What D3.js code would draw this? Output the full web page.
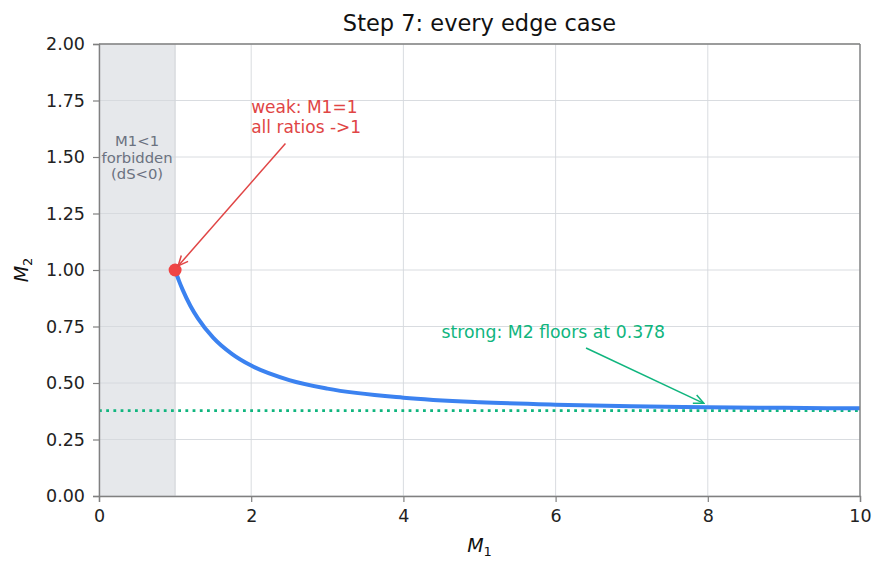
<!DOCTYPE html>
<html>
<head>
<meta charset="utf-8">
<script src="https://cdn.jsdelivr.net/npm/d3@7"></script>
<style>
	body { margin: 0; background: #fff; }
	svg text { font-family: "DejaVu Sans", sans-serif; }
</style>
</head>
<body>
<svg id="chart" width="886" height="572"></svg>
<script>
// values
var m1Values = [1, 1.05, 1.1, 1.2, 1.3, 1.5, 1.75, 2, 2.5, 3, 4, 5, 6, 7, 8, 9, 10];
var m2Values = [1, 0.953, 0.912, 0.842, 0.786, 0.701, 0.628, 0.577, 0.513, 0.475, 0.435, 0.415, 0.404, 0.397, 0.393, 0.390, 0.388];
var xTicks = [0, 2, 4, 6, 8, 10];
var yTicks = [0, 0.25, 0.5, 0.75, 1, 1.25, 1.5, 1.75, 2];
var m2Floor = 0.378;
var forbiddenZone = [0, 1];
var forbiddenLabel = ['M1<1', 'forbidden', '(dS<0)'];
var weakPoint = {m1 : 1, m2 : 1};
var weakLabel = ['weak: M1=1', 'all ratios ->1'];
var weakLabelAt = {m1 : 2, m2 : 1.695};
var weakArrowFrom = {m1 : 2.45, m2 : 1.56};
var strongLabel = 'strong: M2 floors at 0.378';
var strongLabelAt = {m1 : 4.5, m2 : 0.70};
var strongArrowFrom = {m1 : 6.4, m2 : 0.655};
var strongArrowTo = {m1 : 8, m2 : 0.41};

var margin = {left : 99, right : 26, top : 44, bottom : 76};

var svg = d3.select('#chart'),
	width = 886 - margin.left - margin.right,
	height = 572 - margin.top - margin.bottom;

var x = d3.scaleLinear().domain([0, 10]).range([0, width]);
var y = d3.scaleLinear().domain([0, 2]).range([height, 0]);

var defs = svg.append('defs');
function arrowMarker(id, color){
	defs.append('marker')
		.attr('id', id)
		.attr('viewBox', '0 0 12 12')
		.attr('refX', 11).attr('refY', 6)
		.attr('markerWidth', 12).attr('markerHeight', 12)
		.attr('markerUnits', 'userSpaceOnUse')
		.attr('orient', 'auto')
		.append('path')
		.attr('d', 'M1,1.5 L11,6 L1,10.5')
		.attr('fill', 'none')
		.attr('stroke', color)
		.attr('stroke-width', 1.5);
}
arrowMarker('arrRed', '#e04545');
arrowMarker('arrGreen', '#10b57e');

var g = svg.append('g')
	.attr('transform', `translate(${margin.left},${margin.top})`);

// forbidden zone
g.append('rect')
	.attr('x', x(forbiddenZone[0]))
	.attr('y', 0)
	.attr('width', x(forbiddenZone[1]) - x(forbiddenZone[0]))
	.attr('height', height)
	.attr('fill', '#e6e8eb');

// grid
g.append('g').selectAll('line')
	.data(xTicks)
	.enter().append('line')
	.attr('x1', d => x(d)).attr('x2', d => x(d))
	.attr('y1', 0).attr('y2', height)
	.attr('stroke', '#d5d8dc').attr('stroke-width', 0.9);

g.append('g').selectAll('line')
	.data(yTicks)
	.enter().append('line')
	.attr('x1', 0).attr('x2', width)
	.attr('y1', d => y(d)).attr('y2', d => y(d))
	.attr('stroke', '#d5d8dc').attr('stroke-width', 0.9);

g.append('line')
	.attr('x1', x(forbiddenZone[1])).attr('x2', x(forbiddenZone[1]))
	.attr('y1', 0).attr('y2', height)
	.attr('stroke', '#d3d6da').attr('stroke-width', 1.2);

g.append('text')
	.attr('x', x(0.5))
	.attr('y', 146 - margin.top)
	.attr('text-anchor', 'middle')
	.attr('fill', '#6b7280')
	.style('font-size', '14.8px')
	.selectAll('tspan')
	.data(forbiddenLabel)
	.enter().append('tspan')
	.attr('x', x(0.5))
	.attr('dy', (d, i) => i === 0 ? 0 : 16.5)
	.text(d => d);

// floor line
g.append('line')
	.attr('x1', 0).attr('x2', width)
	.attr('y1', y(m2Floor)).attr('y2', y(m2Floor))
	.attr('stroke', '#10b57e')
	.attr('stroke-width', 2.8)
	.attr('stroke-dasharray', '2.8,4.4');

// curve
var points = m1Values.map((m, i) => ({m1 : m, m2 : m2Values[i]}));
var line = d3.line()
	.x(d => x(d.m1))
	.y(d => y(d.m2))
	.curve(d3.curveMonotoneX);

g.append('path')
	.datum(points)
	.attr('d', line)
	.attr('fill', 'none')
	.attr('stroke', '#3b82f0')
	.attr('stroke-width', 4)
	.attr('stroke-linecap', 'butt');

g.append('circle')
	.attr('cx', x(weakPoint.m1))
	.attr('cy', y(weakPoint.m2))
	.attr('r', 6.5)
	.attr('fill', '#ef4444');

// axes
var xAxis = g.append('g')
	.attr('transform', `translate(0,${height})`)
	.call(d3.axisBottom(x).tickValues(xTicks).tickSize(6).tickPadding(5).tickFormat(d3.format('d')));
var yAxis = g.append('g')
	.call(d3.axisLeft(y).tickValues(yTicks).tickSize(6).tickPadding(8).tickFormat(d3.format('.2f')));

g.append('line').attr('class', 'spine').attr('x1', width).attr('x2', width).attr('y1', 0).attr('y2', height);
g.append('line').attr('class', 'spine').attr('x1', 0).attr('x2', width).attr('y1', 0).attr('y2', 0);
g.selectAll('.spine').attr('stroke', '#808080').attr('stroke-width', 1.4);

[xAxis, yAxis].forEach(function(a){
	a.select('.domain').attr('stroke', '#808080').attr('stroke-width', 1.4);
	a.selectAll('.tick line').attr('stroke', '#808080').attr('stroke-width', 1.2);
	a.selectAll('.tick text')
		.attr('fill', '#222')
		.style('font-size', '17.5px')
		.style('font-family', '"DejaVu Sans", sans-serif');
});
xAxis.selectAll('.tick text').attr('dy', '0.85em');

// weak annotation
g.append('line')
	.attr('x1', x(weakArrowFrom.m1)).attr('y1', y(weakArrowFrom.m2))
	.attr('x2', x(weakPoint.m1) + 3).attr('y2', y(weakPoint.m2) - 4)
	.attr('stroke', '#e04545')
	.attr('stroke-width', 1.5)
	.attr('marker-end', 'url(#arrRed)');

g.append('text')
	.attr('x', x(weakLabelAt.m1))
	.attr('y', y(weakLabelAt.m2))
	.attr('fill', '#e04545')
	.style('font-size', '17px')
	.selectAll('tspan')
	.data(weakLabel)
	.enter().append('tspan')
	.attr('x', x(weakLabelAt.m1))
	.attr('dy', (d, i) => i === 0 ? 0 : 20.5)
	.text(d => d);

// strong annotation
g.append('line')
	.attr('x1', x(strongArrowFrom.m1)).attr('y1', y(strongArrowFrom.m2))
	.attr('x2', x(strongArrowTo.m1) - 4).attr('y2', y(strongArrowTo.m2))
	.attr('stroke', '#10b57e')
	.attr('stroke-width', 1.5)
	.attr('marker-end', 'url(#arrGreen)');

g.append('text')
	.attr('x', x(strongLabelAt.m1))
	.attr('y', 338 - margin.top)
	.attr('fill', '#10b57e')
	.style('font-size', '17.3px')
	.text(strongLabel);

// title and labels
svg.append('text')
	.attr('x', margin.left + width / 2)
	.attr('y', 31)
	.attr('text-anchor', 'middle')
	.attr('fill', '#111')
	.style('font-size', '22.5px')
	.text('Step 7: every edge case');

var xl = svg.append('text')
	.attr('x', margin.left + width / 2)
	.attr('y', 552)
	.attr('text-anchor', 'middle')
	.attr('fill', '#111')
	.style('font-size', '19px')
	.style('font-style', 'italic');
xl.append('tspan').text('M');
xl.append('tspan').attr('dy', 4).style('font-size', '13px').style('font-style', 'normal').text('1');

var yl = svg.append('text')
	.attr('transform', `translate(28,${margin.top + height / 2}) rotate(-90)`)
	.attr('text-anchor', 'middle')
	.attr('fill', '#111')
	.style('font-size', '19px')
	.style('font-style', 'italic');
yl.append('tspan').text('M');
yl.append('tspan').attr('dy', 4).style('font-size', '13px').style('font-style', 'normal').text('2');
</script>
</body>
</html>
